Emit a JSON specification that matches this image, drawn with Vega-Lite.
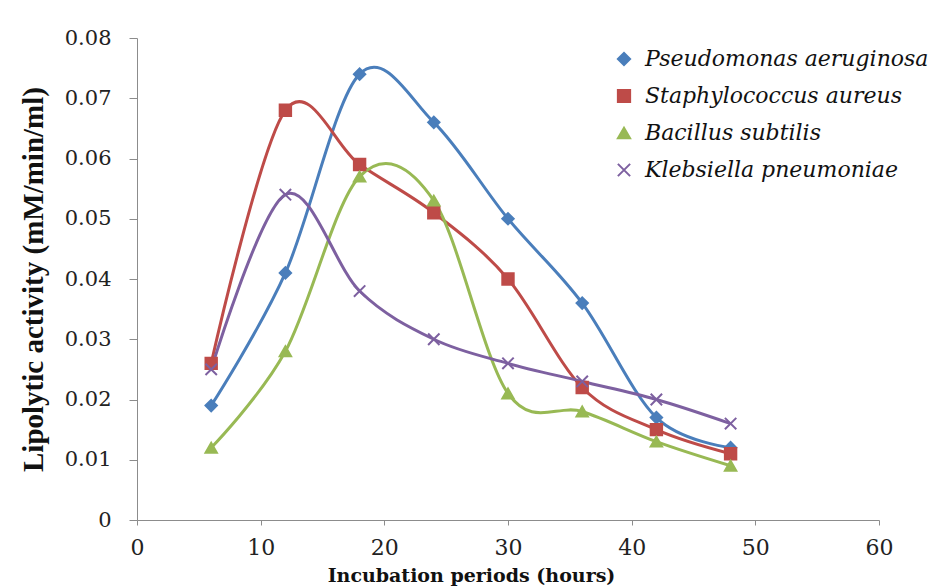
{
  "$schema": "https://vega.github.io/schema/vega-lite/v6.json",
  "width": 742,
  "height": 482,
  "autosize": {"type": "none"},
  "padding": {"left": 137, "top": 38, "right": 69, "bottom": 68},
  "background": "white",
  "config": {
    "view": {"stroke": null},
    "font": "DejaVu Serif",
    "axis": {
      "grid": false,
      "domainColor": "#8c8c8c",
      "tickColor": "#8c8c8c",
      "labelColor": "#222222",
      "labelFont": "DejaVu Serif",
      "titleFont": "DejaVu Serif",
      "titleColor": "#111111",
      "titleFontWeight": "bold",
      "labelFlush": false
    },
    "legend": {
      "title": null,
      "orient": "none",
      "legendX": 476,
      "legendY": 10,
      "labelFont": "DejaVu Serif",
      "labelFontStyle": "italic",
      "labelFontSize": 22,
      "labelColor": "#111111",
      "labelLimit": 400,
      "symbolSize": 150,
      "symbolStrokeWidth": 2,
      "rowPadding": 15,
      "labelOffset": 10
    }
  },
  "data": {
    "values": [
      {"hours": 6, "activity": 0.019, "species": "Pseudomonas aeruginosa"},
      {"hours": 12, "activity": 0.041, "species": "Pseudomonas aeruginosa"},
      {"hours": 18, "activity": 0.074, "species": "Pseudomonas aeruginosa"},
      {"hours": 24, "activity": 0.066, "species": "Pseudomonas aeruginosa"},
      {"hours": 30, "activity": 0.050, "species": "Pseudomonas aeruginosa"},
      {"hours": 36, "activity": 0.036, "species": "Pseudomonas aeruginosa"},
      {"hours": 42, "activity": 0.017, "species": "Pseudomonas aeruginosa"},
      {"hours": 48, "activity": 0.012, "species": "Pseudomonas aeruginosa"},
      {"hours": 6, "activity": 0.026, "species": "Staphylococcus aureus"},
      {"hours": 12, "activity": 0.068, "species": "Staphylococcus aureus"},
      {"hours": 18, "activity": 0.059, "species": "Staphylococcus aureus"},
      {"hours": 24, "activity": 0.051, "species": "Staphylococcus aureus"},
      {"hours": 30, "activity": 0.040, "species": "Staphylococcus aureus"},
      {"hours": 36, "activity": 0.022, "species": "Staphylococcus aureus"},
      {"hours": 42, "activity": 0.015, "species": "Staphylococcus aureus"},
      {"hours": 48, "activity": 0.011, "species": "Staphylococcus aureus"},
      {"hours": 6, "activity": 0.012, "species": "Bacillus subtilis"},
      {"hours": 12, "activity": 0.028, "species": "Bacillus subtilis"},
      {"hours": 18, "activity": 0.057, "species": "Bacillus subtilis"},
      {"hours": 24, "activity": 0.053, "species": "Bacillus subtilis"},
      {"hours": 30, "activity": 0.021, "species": "Bacillus subtilis"},
      {"hours": 36, "activity": 0.018, "species": "Bacillus subtilis"},
      {"hours": 42, "activity": 0.013, "species": "Bacillus subtilis"},
      {"hours": 48, "activity": 0.009, "species": "Bacillus subtilis"},
      {"hours": 6, "activity": 0.025, "species": "Klebsiella pneumoniae"},
      {"hours": 12, "activity": 0.054, "species": "Klebsiella pneumoniae"},
      {"hours": 18, "activity": 0.038, "species": "Klebsiella pneumoniae"},
      {"hours": 24, "activity": 0.030, "species": "Klebsiella pneumoniae"},
      {"hours": 30, "activity": 0.026, "species": "Klebsiella pneumoniae"},
      {"hours": 36, "activity": 0.023, "species": "Klebsiella pneumoniae"},
      {"hours": 42, "activity": 0.020, "species": "Klebsiella pneumoniae"},
      {"hours": 48, "activity": 0.016, "species": "Klebsiella pneumoniae"}
    ]
  },
  "encoding": {
    "x": {
      "field": "hours", "type": "quantitative",
      "scale": {"domain": [0, 60], "nice": false},
      "axis": {"values": [0, 10, 20, 30, 40, 50, 60], "title": "Incubation  periods  (hours)", "titleFontSize": 19, "titlePadding": 8, "titleX": 334, "labelFontSize": 22, "labelPadding": 12, "tickSize": 5}
    },
    "y": {
      "field": "activity", "type": "quantitative",
      "scale": {"domain": [0, 0.08], "nice": false},
      "axis": {"values": [0, 0.01, 0.02, 0.03, 0.04, 0.05, 0.06, 0.07, 0.08], "format": ".2~f", "title": "Lipolytic activity (mM/min/ml)", "titleFont": "Liberation Serif", "titleFontSize": 29, "titlePadding": 16, "labelFontSize": 21, "labelPadding": 18, "tickSize": 8}
    },
    "color": {
      "field": "species", "type": "nominal",
      "scale": {
        "domain": ["Pseudomonas aeruginosa", "Staphylococcus aureus", "Bacillus subtilis", "Klebsiella pneumoniae"],
        "range": ["#4A7EBB", "#BE4B48", "#98B954", "#7D60A0"]
      }
    }
  },
  "layer": [
    {
      "mark": {"type": "line", "interpolate": "cardinal", "strokeWidth": 3},
      "encoding": {}
    },
    {
      "mark": {"type": "point", "filled": true, "opacity": 1, "strokeWidth": 2},
      "encoding": {
        "shape": {
          "field": "species", "type": "nominal",
          "scale": {
            "domain": ["Pseudomonas aeruginosa", "Staphylococcus aureus", "Bacillus subtilis", "Klebsiella pneumoniae"],
            "range": ["diamond", "square", "triangle-up", "M-1,-1L1,1M-1,1L1,-1"]
          }
        },
        "stroke": {
          "field": "species", "type": "nominal",
          "scale": {
            "domain": ["Pseudomonas aeruginosa", "Staphylococcus aureus", "Bacillus subtilis", "Klebsiella pneumoniae"],
            "range": ["#4A7EBB", "#BE4B48", "#98B954", "#7D60A0"]
          }
        },
        "size": {"value": 130}
      }
    }
  ]
}
